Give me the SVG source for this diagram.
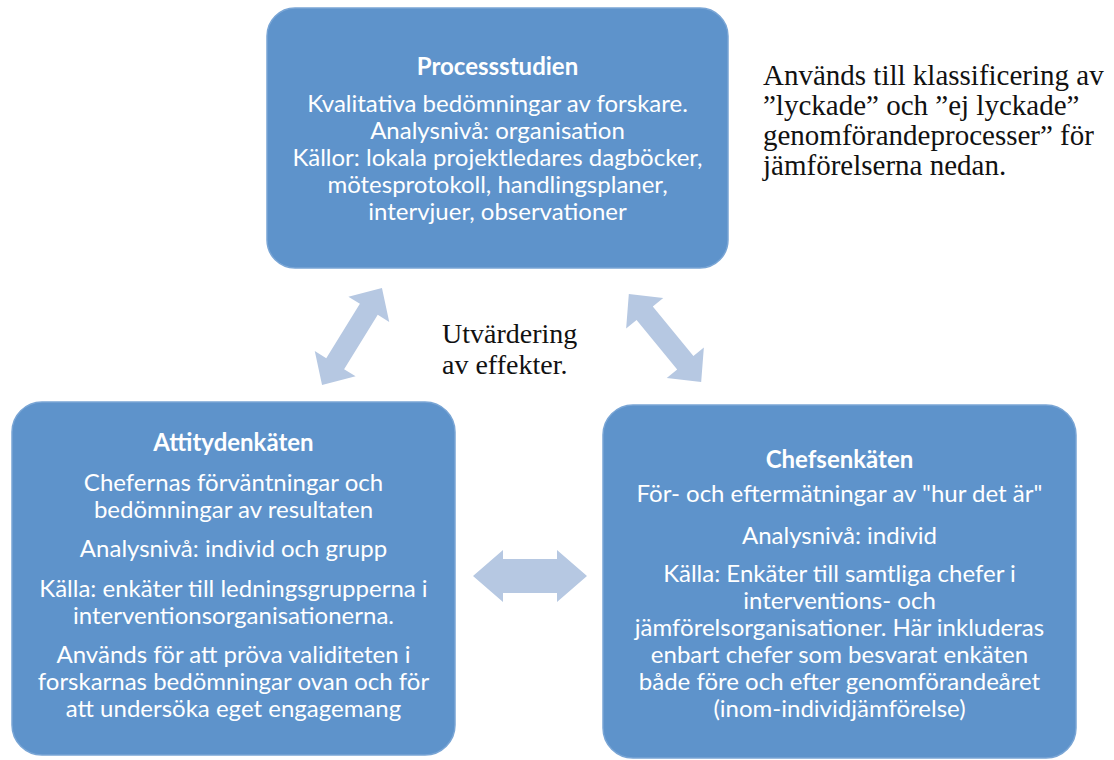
<svg xmlns="http://www.w3.org/2000/svg" width="1114" height="760" viewBox="0 0 1114 760">
  <style>
    .box { fill: #5e93cb; stroke: #79a5d5; stroke-width: 1.5; }
    .ttl { font-family: Lato, "Open Sans", sans-serif; font-weight: bold; font-size: 24px; fill: #ffffff; text-anchor: middle; }
    .txt { font-family: Lato, "Open Sans", sans-serif; font-size: 24px; fill: #ffffff; text-anchor: middle; }
    .note { font-family: "Liberation Serif", "Times New Roman", serif; font-size: 29px; fill: #111111; }
    .arr { fill: #b6c8e2; }
  </style>
  <defs>
    <!-- slim double arrow used on the diagonals -->
    <polygon id="dblSlim" points="-57,0 -32,-24 -32,-10.5 32,-10.5 32,-24 57,0 32,24 32,10.5 -32,10.5 -32,24"/>
  </defs>

  <rect width="1114" height="760" fill="#ffffff"/>

  <!-- connectors -->
  <g id="connectors" class="arr">
    <use href="#dblSlim" transform="translate(352,336.5) rotate(-58.3)"/>
    <use href="#dblSlim" transform="translate(665,338) rotate(50.6)"/>
    <polygon points="473,576 503,550 503,559 557,559 557,550 587,576 557,602 557,593 503,593 503,602"/>
  </g>

  <!-- top node -->
  <g id="processstudien">
    <rect class="box" x="267" y="8" width="461" height="260" rx="28"/>
    <text class="ttl" x="497.5" y="75">Processstudien</text>
    <text class="txt" x="497.5" y="112">Kvalitativa bedömningar av forskare.</text>
    <text class="txt" x="497.5" y="139">Analysnivå: organisation</text>
    <text class="txt" x="497.5" y="166">Källor: lokala projektledares dagböcker,</text>
    <text class="txt" x="497.5" y="193">mötesprotokoll, handlingsplaner,</text>
    <text class="txt" x="497.5" y="220">intervjuer, observationer</text>
  </g>

  <!-- left node -->
  <g id="attitydenkaten">
    <rect class="box" x="12" y="402" width="443" height="353" rx="30"/>
    <text class="ttl" x="233.5" y="451">Attitydenkäten</text>
    <text class="txt" x="233.5" y="491">Chefernas förväntningar och</text>
    <text class="txt" x="233.5" y="518">bedömningar av resultaten</text>
    <text class="txt" x="233.5" y="557">Analysnivå: individ och grupp</text>
    <text class="txt" x="233.5" y="597">Källa: enkäter till ledningsgrupperna i</text>
    <text class="txt" x="233.5" y="624">interventionsorganisationerna.</text>
    <text class="txt" x="233.5" y="663">Används för att pröva validiteten i</text>
    <text class="txt" x="233.5" y="690">forskarnas bedömningar ovan och för</text>
    <text class="txt" x="233.5" y="717">att undersöka eget engagemang</text>
  </g>

  <!-- right node -->
  <g id="chefsenkaten">
    <rect class="box" x="603" y="405" width="473" height="353" rx="30"/>
    <text class="ttl" x="839.5" y="468">Chefsenkäten</text>
    <text class="txt" x="839.5" y="502">För- och eftermätningar av "hur det är"</text>
    <text class="txt" x="839.5" y="544">Analysnivå: individ</text>
    <text class="txt" x="839.5" y="582">Källa:  Enkäter till samtliga chefer i</text>
    <text class="txt" x="839.5" y="609">interventions- och</text>
    <text class="txt" x="839.5" y="636">jämförelsorganisationer. Här inkluderas</text>
    <text class="txt" x="839.5" y="663">enbart chefer som besvarat enkäten</text>
    <text class="txt" x="839.5" y="690">både före och efter genomförandeåret</text>
    <text class="txt" x="839.5" y="717">(inom-individjämförelse)</text>
  </g>

  <!-- free notes -->
  <g id="note-classification" class="note">
    <text x="763" y="85">Används till klassificering av</text>
    <text x="763" y="115">”lyckade” och ”ej lyckade”</text>
    <text x="763" y="145">genomförandeprocesser” för</text>
    <text x="763" y="175">jämförelserna nedan.</text>
  </g>
  <g id="note-evaluation" class="note" style="font-size:28px">
    <text x="442" y="343">Utvärdering</text>
    <text x="442" y="374">av effekter.</text>
  </g>
</svg>
